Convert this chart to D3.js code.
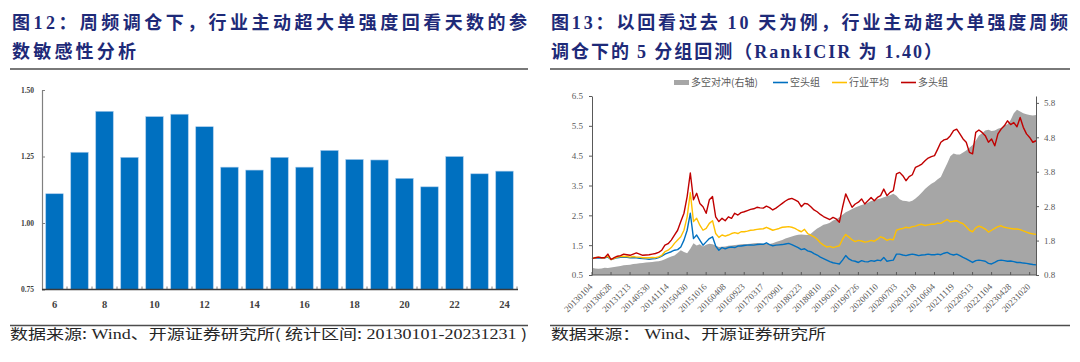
<!DOCTYPE html>
<html><head><meta charset="utf-8">
<script src="https://cdn.jsdelivr.net/npm/d3@7"></script>
<style>html,body{margin:0;padding:0;background:#fff;} svg{display:block;}</style>
</head><body>
<svg id="c" width="1080" height="362"></svg>
<script>
// ---------- Data: left chart (RankICIR vs look-back days) ----------
const barCategories = [6,7,8,9,10,11,12,13,14,15,16,17,18,19,20,21,22,23,24];
const barValues = [1.11,1.266,1.42,1.247,1.40,1.409,1.362,1.21,1.199,1.247,1.21,1.273,1.239,1.237,1.168,1.136,1.25,1.185,1.195];
const barTicks = [0.75,1.00,1.25,1.50];
const barLabelCats = [6,8,10,12,14,16,18,20,22,24];

// ---------- Data: right chart (5-group backtest, 4-week samples) ----------
const xTickLabels = ['20130104','20130628','20131213','20140530','20141114','20150430','20151016','20160408','20160923','20170317','20170901','20180223','20180810','20190201','20190726','20200110','20200703','20201218','20210604','20211119','20220513','20221104','20230428','20231020'];
const seriesLong = [1.05,1.08,1.1,1.08,1.08,1.2,1.02,1.08,1.13,1.15,
1.2,1.18,1.16,1.2,1.24,1.2,1.16,1.17,1.18,1.2,
1.22,1.26,1.33,1.5,1.55,1.67,1.84,2.0,2.29,2.57,
3.13,3.92,3.02,3.24,2.9,2.79,2.57,3.02,3.13,2.45,
2.29,2.4,2.32,2.45,2.4,2.57,2.51,2.59,2.62,2.66,
2.7,2.72,2.77,2.75,2.74,2.81,2.76,2.68,2.74,2.82,
2.9,2.98,3.04,3.07,3.02,2.96,2.79,2.9,2.88,2.79,
2.68,2.62,2.53,2.46,2.41,2.36,2.43,2.38,2.27,2.77,
3.22,2.99,2.77,2.88,2.94,3.05,2.88,2.99,3.1,2.99,
3.1,3.16,3.38,3.16,3.27,3.33,3.89,3.94,3.83,3.66,
3.8,3.86,4.11,4.16,4.22,4.33,4.42,4.47,4.5,4.72,
4.95,5.03,5.06,5.17,5.34,5.39,5.23,5.06,4.95,4.61,
4.56,5.28,5.36,5.28,5.17,4.95,5.06,4.83,5.23,5.39,
5.5,5.67,5.54,5.61,5.47,5.78,5.45,5.23,5.11,4.95,5.0];
const seriesAvg = [1.05,1.08,1.1,1.08,1.08,1.13,1.02,1.06,1.1,1.12,
1.13,1.12,1.1,1.12,1.1,1.1,1.08,1.08,1.08,1.09,
1.08,1.11,1.16,1.28,1.33,1.42,1.56,1.67,1.78,2.0,
2.45,3.26,2.29,2.4,2.17,2.0,2.06,2.23,2.32,1.89,
1.76,1.84,1.8,1.84,1.89,1.92,1.89,1.95,1.95,1.97,
2.0,2.01,2.03,2.04,2.05,2.1,2.05,2.0,2.03,2.06,
2.1,2.11,2.12,2.1,2.06,2.0,1.95,2.03,1.89,1.84,
1.78,1.7,1.58,1.5,1.44,1.46,1.42,1.45,1.48,1.7,
1.86,1.77,1.68,1.62,1.66,1.64,1.6,1.62,1.66,1.63,
1.7,1.78,1.74,1.66,1.7,1.68,2.0,2.04,2.06,2.1,
2.08,2.12,2.14,2.18,2.2,2.16,2.18,2.2,2.2,2.24,
2.23,2.3,2.36,2.28,2.3,2.32,2.26,2.22,2.12,2.0,
1.95,2.08,2.14,2.1,2.04,1.94,2.0,2.06,2.12,2.15,
2.1,2.08,2.06,2.04,2.04,2.02,1.98,1.94,1.9,1.88,1.86];
const seriesShort = [1.05,1.07,1.08,1.07,1.08,1.1,1.02,1.05,1.08,1.09,
1.1,1.09,1.08,1.08,1.08,1.06,1.05,1.04,1.03,1.04,
1.05,1.08,1.13,1.2,1.24,1.28,1.33,1.35,1.44,1.67,
2.0,2.57,1.72,1.84,1.67,1.5,1.61,1.72,1.78,1.47,
1.33,1.42,1.38,1.42,1.44,1.42,1.47,1.47,1.49,1.5,
1.51,1.5,1.52,1.53,1.53,1.58,1.52,1.48,1.5,1.51,
1.52,1.54,1.56,1.52,1.47,1.42,1.35,1.38,1.31,1.28,
1.22,1.17,1.1,1.05,1.0,0.95,0.91,0.89,0.87,1.0,
1.15,1.04,0.98,0.96,0.92,0.98,0.95,0.94,0.98,0.96,
1.0,0.98,1.09,0.96,0.98,1.0,1.2,1.2,1.17,1.15,
1.18,1.2,1.18,1.15,1.17,1.18,1.2,1.18,1.18,1.2,
1.18,1.23,1.26,1.2,1.17,1.2,1.15,1.09,1.04,0.98,
0.92,0.98,1.0,0.98,0.96,0.89,0.87,0.92,0.98,1.0,
0.98,0.96,0.97,0.95,0.92,0.92,0.9,0.89,0.87,0.85,0.84];
const seriesHedge = [1.01,0.99,0.98,0.99,1.01,1.0,1.02,1.03,1.05,1.06,
1.08,1.09,1.1,1.12,1.13,1.14,1.15,1.16,1.17,1.18,
1.19,1.2,1.22,1.26,1.3,1.34,1.37,1.44,1.52,1.47,
1.43,1.56,1.72,1.66,1.69,1.63,1.68,1.71,1.69,1.66,
1.61,1.62,1.63,1.65,1.66,1.67,1.68,1.69,1.7,1.7,
1.71,1.72,1.73,1.72,1.71,1.7,1.7,1.72,1.76,1.79,
1.82,1.86,1.89,1.92,1.95,1.97,1.98,1.97,1.96,2.0,
2.08,2.15,2.2,2.26,2.28,2.32,2.38,2.42,2.48,2.55,
2.62,2.67,2.72,2.76,2.8,2.83,2.86,2.9,2.95,2.97,
3.0,3.02,3.06,3.09,3.12,3.16,3.1,3.0,2.96,2.95,
2.93,2.96,3.02,3.1,3.2,3.3,3.38,3.45,3.5,3.58,
3.65,3.85,4.04,4.25,4.33,4.3,4.3,4.36,4.42,4.5,
4.58,4.7,4.85,4.92,5.0,5.02,4.98,5.0,5.05,5.08,
5.15,5.18,5.3,5.5,5.6,5.55,5.5,5.47,5.45,5.43,5.45];
const leftTicks = [0.5,1.5,2.5,3.5,4.5,5.5,6.5];
const rightTicks = [0.8,1.8,2.8,3.8,4.8,5.8];
const legendItems = [
  {name:'多空对冲(右轴)', type:'area', color:'#a6a6a6'},
  {name:'空头组', type:'line', color:'#0070c0'},
  {name:'行业平均', type:'line', color:'#ffc000'},
  {name:'多头组', type:'line', color:'#c00000'}
];

// ---------- Drawing ----------
const svg = d3.select('#c');
svg.append('rect').attr('width',1080).attr('height',362).attr('fill','#fff');
const CJK = '"Noto Sans CJK SC","Noto Sans",sans-serif';
const SERIF = '"Liberation Serif","DejaVu Serif",serif';
const TITLE = '#1e2a78';

function title(x, y, parts, len){
  const t = svg.append('text').attr('x',x).attr('y',y)
    .attr('font-size',18).attr('font-weight',700).attr('fill',TITLE)
    .attr('font-family',CJK);
  parts.forEach(p=>{
    t.append('tspan').attr('font-family', p[1] ? SERIF : CJK).text(p[0]);
  });
  if(len) t.attr('textLength',len).attr('lengthAdjust','spacing');
}
// Titles
title(12,29,[['图'],['12',1],['：周频调仓下，行业主动超大单强度回看天数的参']],515);
title(12,58,[['数敏感性分析']],124);
title(551,29,[['图'],['13',1],['：以回看过去 '],['10',1],[' 天为例，行业主动超大单强度周频']],517);
title(551,58,[['调仓下的 '],['5',1],[' 分组回测（'],['RankICIR',1],[' 为 '],['1.40',1],['）']],391);

// rules
[[10,528],[550,1070]].forEach(r=>{
  svg.append('line').attr('x1',r[0]).attr('x2',r[1]).attr('y1',69).attr('y2',69).attr('stroke','#4d4d4d').attr('stroke-width',1.3);
  svg.append('line').attr('x1',r[0]).attr('x2',r[1]).attr('y1',325.5).attr('y2',325.5).attr('stroke','#4d4d4d').attr('stroke-width',1.3);
});

// sources
function source(x, parts, len){
  const t = svg.append('text').attr('x',x).attr('y',339).attr('font-size',14).attr('fill','#262626').attr('font-family',CJK);
  parts.forEach(p=> t.append('tspan').attr('font-family', p[1]?SERIF:CJK).text(p[0]));
  t.attr('textLength',len).attr('lengthAdjust','spacingAndGlyphs');
}
source(10,[['数据来源:'],[' Wind',1],['、开源证券研究所('],[' 统计区间:'],[' 20130101-20231231 ',1],[')']],517);
source(551,[['数据来源：'],[' Wind',1],['、开源证券研究所']],275);

// ---------- Bar chart ----------
const xb = d3.scaleBand().domain(barCategories).range([42,517]).paddingInner(0.3).paddingOuter(0.15);
const yb = d3.scaleLinear().domain([0.75,1.5]).range([289.5,90]);
const gb = svg.append('g');
gb.selectAll('rect.bar').data(barValues).join('rect').attr('class','bar')
  .attr('x',(d,i)=>xb(barCategories[i]))
  .attr('width',xb.bandwidth())
  .attr('y',d=>yb(d))
  .attr('height',d=>yb(0.75)-yb(d))
  .attr('fill','#0070c0').attr('stroke','#a9cbeb').attr('stroke-width',0.6);

const yAxB = gb.append('g').attr('transform','translate(42,0)')
  .call(d3.axisLeft(yb).tickValues(barTicks).tickFormat(d3.format('.2f')).tickSizeInner(-3).tickSizeOuter(0).tickPadding(8));
yAxB.select('.domain').attr('stroke','#808080').attr('stroke-width',1.2);
yAxB.selectAll('.tick line').attr('stroke','#808080');
yAxB.selectAll('.tick text').attr('font-family',SERIF).attr('font-size',7.5).attr('font-weight',700).attr('fill','#404040');

const step = xb.step();
gb.selectAll('line.btick').data(barCategories).join('line').attr('class','btick')
  .attr('x1',d=>xb(d)+xb.bandwidth()+step*0.15).attr('x2',d=>xb(d)+xb.bandwidth()+step*0.15)
  .attr('y1',289.5).attr('y2',286.5).attr('stroke','#808080').attr('stroke-width',1);
gb.append('line').attr('x1',42).attr('x2',518).attr('y1',289.5).attr('y2',289.5).attr('stroke','#3a3a3a').attr('stroke-width',1.3);
gb.selectAll('text.bl').data(barLabelCats).join('text').attr('class','bl')
  .attr('x',d=>xb(d)+xb.bandwidth()/2).attr('y',308)
  .attr('text-anchor','middle').attr('font-family',SERIF).attr('font-size',10.5).attr('font-weight',700).attr('fill','#404040')
  .text(d=>d);

// ---------- Line chart ----------
const N = seriesLong.length;
const xl = d3.scaleLinear().domain([0,N-1]).range([592,1036]);
const yL = d3.scaleLinear().domain([0.5,6.5]).range([275,96]);
const yR = d3.scaleLinear().domain([0.8,6.0]).range([275,96]);
const gl = svg.append('g');

gl.append('path').datum(seriesHedge)
  .attr('d', d3.area().x((d,i)=>xl(i)).y0(yR(0.8)).y1(d=>yR(d)))
  .attr('fill','#a6a6a6');

const line = d3.line().x((d,i)=>xl(i)).y(d=>yL(d));
[[seriesShort,'#0070c0'],[seriesAvg,'#ffc000'],[seriesLong,'#c00000']].forEach(s=>{
  gl.append('path').datum(s[0]).attr('d',line).attr('fill','none').attr('stroke',s[1]).attr('stroke-width',1.4).attr('stroke-linejoin','round');
});

const yAxL = gl.append('g').attr('transform','translate(592,0)')
  .call(d3.axisLeft(yL).tickValues(leftTicks).tickFormat(d3.format('.1f')).tickSizeInner(3).tickSizeOuter(0).tickPadding(6));
const yAxR = gl.append('g').attr('transform','translate(1036,0)')
  .call(d3.axisRight(yR).tickValues(rightTicks).tickFormat(d3.format('.1f')).tickSizeInner(3).tickSizeOuter(0).tickPadding(5));
[yAxL,yAxR].forEach(a=>{
  a.select('.domain').attr('stroke','#595959').attr('stroke-width',1);
  a.selectAll('.tick line').attr('stroke','#595959');
  a.selectAll('.tick text').attr('font-family',SERIF).attr('font-size',9).attr('fill','#595959');
});

gl.append('line').attr('x1',592).attr('x2',1036).attr('y1',275).attr('y2',275).attr('stroke','#595959').attr('stroke-width',1);
const tickIdx = xTickLabels.map((d,k)=>k*6);
gl.selectAll('line.xt').data(tickIdx).join('line').attr('class','xt')
  .attr('x1',d=>xl(d)).attr('x2',d=>xl(d)).attr('y1',275).attr('y2',272).attr('stroke','#595959');
gl.selectAll('text.xl').data(xTickLabels).join('text').attr('class','xl')
  .attr('transform',(d,k)=>`translate(${xl(tickIdx[k])-1},${285}) rotate(-45)`)
  .attr('text-anchor','end').attr('dy','0.35em')
  .attr('font-family',SERIF).attr('font-size',9).attr('fill','#595959')
  .text(d=>d);

// legend
const legX = [674,773,832,901];
const lg = svg.append('g');
legendItems.forEach((it,i)=>{
  const x = legX[i];
  if(it.type==='area') lg.append('rect').attr('x',x).attr('y',80).attr('width',15).attr('height',5).attr('fill',it.color);
  else lg.append('line').attr('x1',x).attr('x2',x+15).attr('y1',82.5).attr('y2',82.5).attr('stroke',it.color).attr('stroke-width',1.6);
  lg.append('text').attr('x',x+17).attr('y',86).attr('font-family',CJK).attr('font-size',10).attr('fill','#595959').text(it.name);
});
</script>
</body></html>
